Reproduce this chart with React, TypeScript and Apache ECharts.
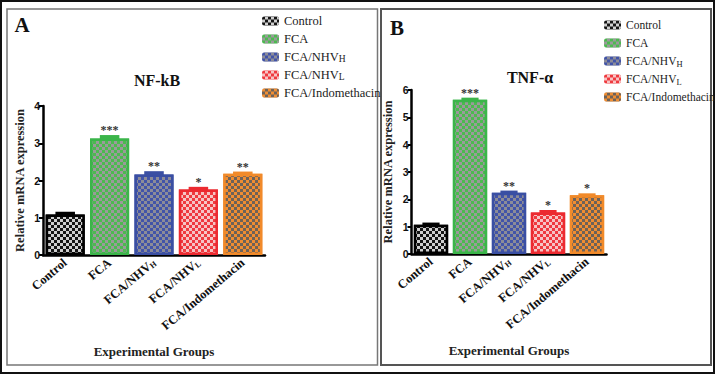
import React, { useEffect, useRef } from "react";
import * as echarts from "echarts";

const categories = ["Control", "FCA", "FCA/NHV_H", "FCA/NHV_L", "FCA/Indomethacin"];
const nfkbMeans = [1.09, 3.13, 2.16, 1.76, 2.18];
const nfkbErrors = [0.07, 0.09, 0.09, 0.07, 0.06];
const nfkbStars = ["", "***", "**", "*", "**"];
const tnfMeans = [1.07, 5.64, 2.24, 1.52, 2.15];
const tnfErrors = [0.08, 0.08, 0.08, 0.09, 0.07];
const tnfStars = ["", "***", "**", "*", "*"];
const nfkbTicks = [0, 1, 2, 3, 4];
const tnfTicks = [0, 1, 2, 3, 4, 5, 6];

const borderColors = ["#000000", "#3bb54a", "#3a4fa3", "#ec2a30", "#f18a2a"];
const fillColors = ["#151515", "#4cba50", "#4254a8", "#ef3a3f", "#f08d32"];
const checkColors = ["#cfcfcf", "#9a9a9a", "#8c8c98", "#f6c4c4", "#6e6258"];

const SERIF = "'Liberation Serif', 'Times New Roman', serif";
const SANS = "'Liberation Sans', Arial, sans-serif";

const fmtName = (name: string) => {
  const i = name.indexOf("_");
  if (i < 0) return `{n|${name}}`;
  return `{n|${name.slice(0, i)}}{s|${name.slice(i + 1)}}`;
};

const decalFor = (c: string) => ({
  symbol: "rect",
  symbolSize: 1,
  color: c,
  dashArrayX: [
    [3, 3],
    [0, 3, 3, 0],
  ],
  dashArrayY: [3, 0],
  rotation: 0,
});

function buildPanel(idx: number, means: number[], errors: number[], stars: string[]) {
  const series: any[] = categories.map((name, i) => ({
    name,
    type: "bar",
    xAxisIndex: idx,
    yAxisIndex: idx,
    stack: "s" + idx,
    barWidth: "88%",
    data: means.map((v, j) => (j === i ? v : "-")),
    itemStyle: {
      color: fillColors[i],
      borderColor: borderColors[i],
      borderWidth: 2.5,
      decal: decalFor(checkColors[i]),
    },
    z: 2,
  }));
  series.push({
    type: "custom",
    xAxisIndex: idx,
    yAxisIndex: idx,
    z: 5,
    data: means.map((v, i) => [i, v, errors[i]]),
    encode: { x: 0, y: 1 },
    renderItem: (params: any, api: any) => {
      const i = params.dataIndex;
      const x = api.value(0);
      const m = api.value(1);
      const e = api.value(2);
      const top = api.coord([x, m + e]);
      const base = api.coord([x, m]);
      const bw = api.size([1, 0])[0] * 0.88;
      const cw = bw * 0.5;
      return {
        type: "group",
        children: [
          {
            type: "rect",
            shape: { x: top[0] - cw / 2, y: top[1], width: cw, height: base[1] - top[1] + 1 },
            style: { fill: borderColors[i] },
          },
          {
            type: "text",
            style: {
              x: top[0],
              y: top[1] - 5,
              text: stars[i],
              align: "center",
              verticalAlign: "middle",
              fill: "#333",
              font: `bold 12px ${SERIF}`,
            },
          },
        ],
      };
    },
  });
  return series;
}

const axisLabelRich = {
  n: { fontFamily: SERIF, fontWeight: "bold", fontSize: 12.5, color: "#111" },
  s: { fontFamily: SERIF, fontWeight: "bold", fontSize: 8, color: "#111", verticalAlign: "bottom", lineHeight: 8 },
};

function xAxisFor(grid: number) {
  return {
    type: "category",
    gridIndex: grid,
    data: categories,
    name: "Experimental Groups",
    nameLocation: "middle",
    nameGap: 90,
    nameTextStyle: { fontFamily: SERIF, fontWeight: "bold", fontSize: 13, color: "#222" },
    axisLine: { lineStyle: { color: "#000", width: 2.5 } },
    axisTick: { alignWithLabel: true, length: 5, lineStyle: { color: "#000", width: 2 } },
    axisLabel: {
      rotate: 40,
      margin: 6,
      interval: 0,
      fontFamily: SERIF,
      fontWeight: "bold",
      formatter: (v: string) => fmtName(v),
      rich: axisLabelRich,
    },
    splitLine: { show: false },
  };
}

function yAxisFor(grid: number, ticks: number[]) {
  return {
    type: "value",
    gridIndex: grid,
    min: ticks[0],
    max: ticks[ticks.length - 1],
    interval: 1,
    name: "Relative mRNA expression",
    nameLocation: "middle",
    nameGap: 17,
    nameRotate: 90,
    nameTextStyle: { fontFamily: SERIF, fontWeight: "bold", fontSize: 12.5, color: "#222" },
    axisLine: { show: true, lineStyle: { color: "#000", width: 2.5 } },
    axisTick: { show: true, length: 4, lineStyle: { color: "#000", width: 2 } },
    axisLabel: { fontFamily: SANS, fontWeight: "bold", fontSize: 10.5, color: "#111", margin: 3 },
    splitLine: { show: false },
  };
}

function legendFor(left: number, top: number, size: number) {
  return {
    orient: "vertical",
    left,
    top,
    data: categories,
    itemWidth: 17,
    itemHeight: 9,
    itemGap: 4,
    icon: "roundRect",
    itemStyle: { borderWidth: 0 },
    formatter: (name: string) => fmtName(name),
    textStyle: {
      fontFamily: SERIF,
      fontSize: size,
      color: "#222",
      lineHeight: 14,
      rich: {
        n: { fontFamily: SERIF, fontSize: size, color: "#222", lineHeight: 14 },
        s: { fontFamily: SERIF, fontSize: size - 3, color: "#222", lineHeight: 8, verticalAlign: "bottom" },
      },
    },
    selectedMode: false,
  };
}

export default function App() {
  const ref = useRef<HTMLDivElement>(null);
  useEffect(() => {
    document.body.style.margin = "0";
    const chart = echarts.init(ref.current!, null, { renderer: "svg" });
    const option: any = {
      animation: false,
      backgroundColor: "#ffffff",
      textStyle: { fontFamily: SERIF },
      grid: [
        { left: 43, top: 106, width: 222, height: 149, containLabel: false },
        { left: 411.5, top: 90, width: 195, height: 164, containLabel: false },
      ],
      xAxis: [xAxisFor(0), xAxisFor(1)],
      yAxis: [yAxisFor(0, nfkbTicks), yAxisFor(1, tnfTicks)],
      legend: [legendFor(257, 9, 12.5), legendFor(599, 13, 11.5)],
      series: [
        ...buildPanel(0, nfkbMeans, nfkbErrors, nfkbStars),
        ...buildPanel(1, tnfMeans, tnfErrors, tnfStars),
      ],
      graphic: [
        { type: "rect", shape: { x: 1, y: 1, width: 713, height: 372 }, style: { fill: "none", stroke: "#111", lineWidth: 2 }, silent: true },
        { type: "rect", shape: { x: 7, y: 9, width: 370.5, height: 356 }, style: { fill: "none", stroke: "#777", lineWidth: 1.5 }, silent: true },
        { type: "rect", shape: { x: 381, y: 9, width: 330, height: 356 }, style: { fill: "none", stroke: "#555", lineWidth: 2 }, silent: true },
        { type: "text", x: 22, y: 25, style: { text: "A", font: `bold 21px ${SERIF}`, fill: "#111", align: "center", verticalAlign: "middle" }, silent: true },
        { type: "text", x: 397, y: 28, style: { text: "B", font: `bold 21px ${SERIF}`, fill: "#111", align: "center", verticalAlign: "middle" }, silent: true },
        { type: "text", x: 157, y: 80, style: { text: "NF-kB", font: `bold 16px ${SERIF}`, fill: "#111", align: "center", verticalAlign: "middle" }, silent: true },
        { type: "text", x: 530, y: 77, style: { text: "TNF-α", font: `bold 16px ${SERIF}`, fill: "#111", align: "center", verticalAlign: "middle" }, silent: true },
      ],
    };
    chart.setOption(option);
    return () => chart.dispose();
  }, []);
  return <div ref={ref} style={{ width: 717, height: 375 }} />;
}
